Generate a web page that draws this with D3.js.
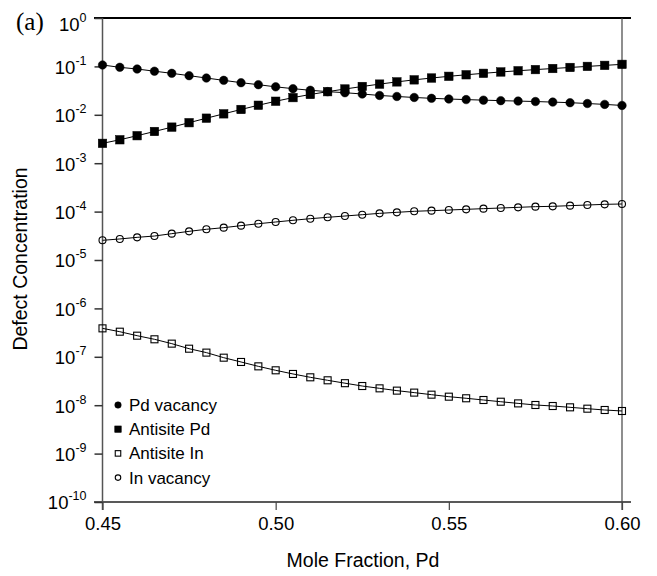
<!DOCTYPE html>
<html>
<head>
<meta charset="utf-8">
<script src="https://cdn.jsdelivr.net/npm/d3@7"></script>
<style>
  html, body { margin: 0; padding: 0; background: #fff; }
  svg { display: block; }
  text { font-family: "Liberation Sans", Arial, Helvetica, sans-serif; fill: #000; }
</style>
</head>
<body>
<svg id="chart" width="657" height="576"></svg>
<script>
// ---------------- data ----------------
const moleFraction = [0.450,0.455,0.460,0.465,0.470,0.475,0.480,0.485,0.490,0.495,
                      0.500,0.505,0.510,0.515,0.520,0.525,0.530,0.535,0.540,0.545,
                      0.550,0.555,0.560,0.565,0.570,0.575,0.580,0.585,0.590,0.595,0.600];

const pdVacancy = [0.1069,0.0957,0.0883,0.0796,0.0719,0.0644,0.0575,0.0515,0.0461,0.0419,
                   0.0378,0.0347,0.0321,0.0301,0.0286,0.0269,0.0251,0.0239,0.0228,0.0219,
                   0.0212,0.0206,0.0201,0.0196,0.0192,0.0188,0.0183,0.0178,0.0171,0.0164,0.0156];

const antisitePd = [0.00257,0.00305,0.00370,0.00452,0.00556,0.00687,0.00851,0.01047,0.01288,0.01574,
                    0.01905,0.02265,0.02630,0.03006,0.03412,0.03846,0.04305,0.04786,0.05272,0.05754,
                    0.06237,0.06714,0.07194,0.07674,0.08128,0.08590,0.09036,0.09506,0.1000,0.1050,0.1102];

const antisiteIn = [3.87e-7,3.30e-7,2.73e-7,2.30e-7,1.87e-7,1.47e-7,1.22e-7,9.59e-8,7.82e-8,6.35e-8,
                    5.26e-8,4.42e-8,3.77e-8,3.27e-8,2.85e-8,2.49e-8,2.23e-8,2.00e-8,1.82e-8,1.65e-8,
                    1.50e-8,1.39e-8,1.28e-8,1.18e-8,1.09e-8,1.01e-8,9.62e-9,9.04e-9,8.47e-9,7.96e-9,7.59e-9];

const inVacancy = [2.55e-5,2.72e-5,2.94e-5,3.13e-5,3.50e-5,3.91e-5,4.31e-5,4.66e-5,5.12e-5,5.62e-5,
                   6.10e-5,6.61e-5,7.14e-5,7.62e-5,8.11e-5,8.63e-5,9.20e-5,9.66e-5,1.014e-4,1.045e-4,
                   1.079e-4,1.114e-4,1.151e-4,1.186e-4,1.225e-4,1.265e-4,1.285e-4,1.327e-4,1.368e-4,1.413e-4,1.436e-4];

const seriesNames = ["Pd vacancy", "Antisite Pd", "Antisite In", "In vacancy"];
const xTicks = [0.45, 0.50, 0.55, 0.60];
const yTickExponents = [0,-1,-2,-3,-4,-5,-6,-7,-8,-9,-10];
const xTitle = "Mole Fraction, Pd";
const yTitle = "Defect Concentration";
const panelLabel = "(a)";

// ---------------- layout ----------------
const L = 102.5, R = 622, T = 18, B = 502;
const svg = d3.select("#chart");

const x = d3.scaleLinear().domain([0.45, 0.60]).range([L, R]);
const y = d3.scaleLog().domain([1e-10, 1]).range([B, T]);

// frame lines
svg.append("line").attr("x1", 94).attr("x2", 631).attr("y1", T).attr("y2", T)
  .attr("stroke", "#000").attr("stroke-width", 2);
svg.append("line").attr("x1", 94).attr("x2", 631).attr("y1", B).attr("y2", B)
  .attr("stroke", "#222").attr("stroke-width", 1.5);
svg.append("line").attr("x1", L).attr("x2", L).attr("y1", T).attr("y2", 510)
  .attr("stroke", "#555").attr("stroke-width", 1.5);
svg.append("line").attr("x1", R).attr("x2", R).attr("y1", T).attr("y2", 510)
  .attr("stroke", "#444").attr("stroke-width", 1.2);

// x axis
const xAxis = svg.append("g").attr("transform", `translate(0,${B})`)
  .call(d3.axisBottom(x).tickValues(xTicks).tickSize(8).tickPadding(7).tickFormat(d3.format(".2f")));
xAxis.select(".domain").remove();
xAxis.selectAll(".tick line").attr("stroke", "#444").attr("stroke-width", 1.2);
xAxis.selectAll(".tick text").style("font-size", "18.5px").attr("font-family", null);

// y axis
const yAxis = svg.append("g").attr("transform", `translate(${L},0)`)
  .call(d3.axisLeft(y).tickValues(yTickExponents.map(e => Math.pow(10, e))).tickSize(8).tickFormat(() => ""));
yAxis.select(".domain").remove();
yAxis.selectAll(".tick line").attr("stroke", "#333").attr("stroke-width", 1.5);
yAxis.selectAll(".tick").each(function(d, i) {
  const e = yTickExponents[i];
  const t = d3.select(this).append("text")
    .attr("x", -16)
    .attr("y", e === 0 ? 12.5 : 6.8)
    .attr("text-anchor", "end")
    .attr("fill", "#000");
  t.append("tspan").text("10").style("font-size", "18.5px");
  t.append("tspan").text(String(e)).attr("dy", -9).style("font-size", "12.5px");
});

// axis titles
svg.append("text").attr("x", 363).attr("y", 566.5).attr("text-anchor", "middle")
  .style("font-size", "19.5px").text(xTitle);
svg.append("text").attr("transform", "translate(27,259) rotate(-90)").attr("text-anchor", "middle")
  .style("font-size", "19.5px").text(yTitle);
svg.append("text").attr("x", 16).attr("y", 30).style("font-family", "'Liberation Serif', 'Times New Roman', serif")
  .style("font-size", "25px").text(panelLabel);

// series
const series = [
  {name: seriesNames[0], values: pdVacancy, shape: "circle", filled: true},
  {name: seriesNames[1], values: antisitePd, shape: "square", filled: true},
  {name: seriesNames[2], values: antisiteIn, shape: "square", filled: false},
  {name: seriesNames[3], values: inVacancy, shape: "circle", filled: false}
];

const line = d3.line().x((d, i) => x(moleFraction[i])).y(d => y(d));

function drawMarker(g, cx, cy, shape, filled, size) {
  if (shape === "circle") {
    g.append("circle").attr("cx", cx).attr("cy", cy).attr("r", filled ? size / 2 : size / 2 - 0.5)
      .attr("fill", filled ? "#000" : "none").attr("stroke", "#000").attr("stroke-width", filled ? 0.5 : 1.1);
  } else {
    const s = filled ? size : size - 1;
    g.append("rect").attr("x", cx - s / 2).attr("y", cy - s / 2).attr("width", s).attr("height", s)
      .attr("fill", filled ? "#000" : "none").attr("stroke", "#000").attr("stroke-width", filled ? 0.5 : 1.1);
  }
}

series.forEach(s => {
  svg.append("path").datum(s.values).attr("d", line)
    .attr("fill", "none").attr("stroke", "#000").attr("stroke-width", 1);
  const g = svg.append("g");
  s.values.forEach((v, i) => drawMarker(g, x(moleFraction[i]), y(v), s.shape, s.filled, s.filled ? 8.5 : 8));
});

// legend
const legend = svg.append("g");
const legendY0 = 405, legendStep = 24.2;
series.forEach((s, i) => {
  const cy = legendY0 + i * legendStep;
  drawMarker(legend, 118, cy, s.shape, s.filled, 6.5);
  legend.append("text").attr("x", 129).attr("y", cy + 6).style("font-size", "17px").text(s.name);
});
</script>
</body>
</html>
